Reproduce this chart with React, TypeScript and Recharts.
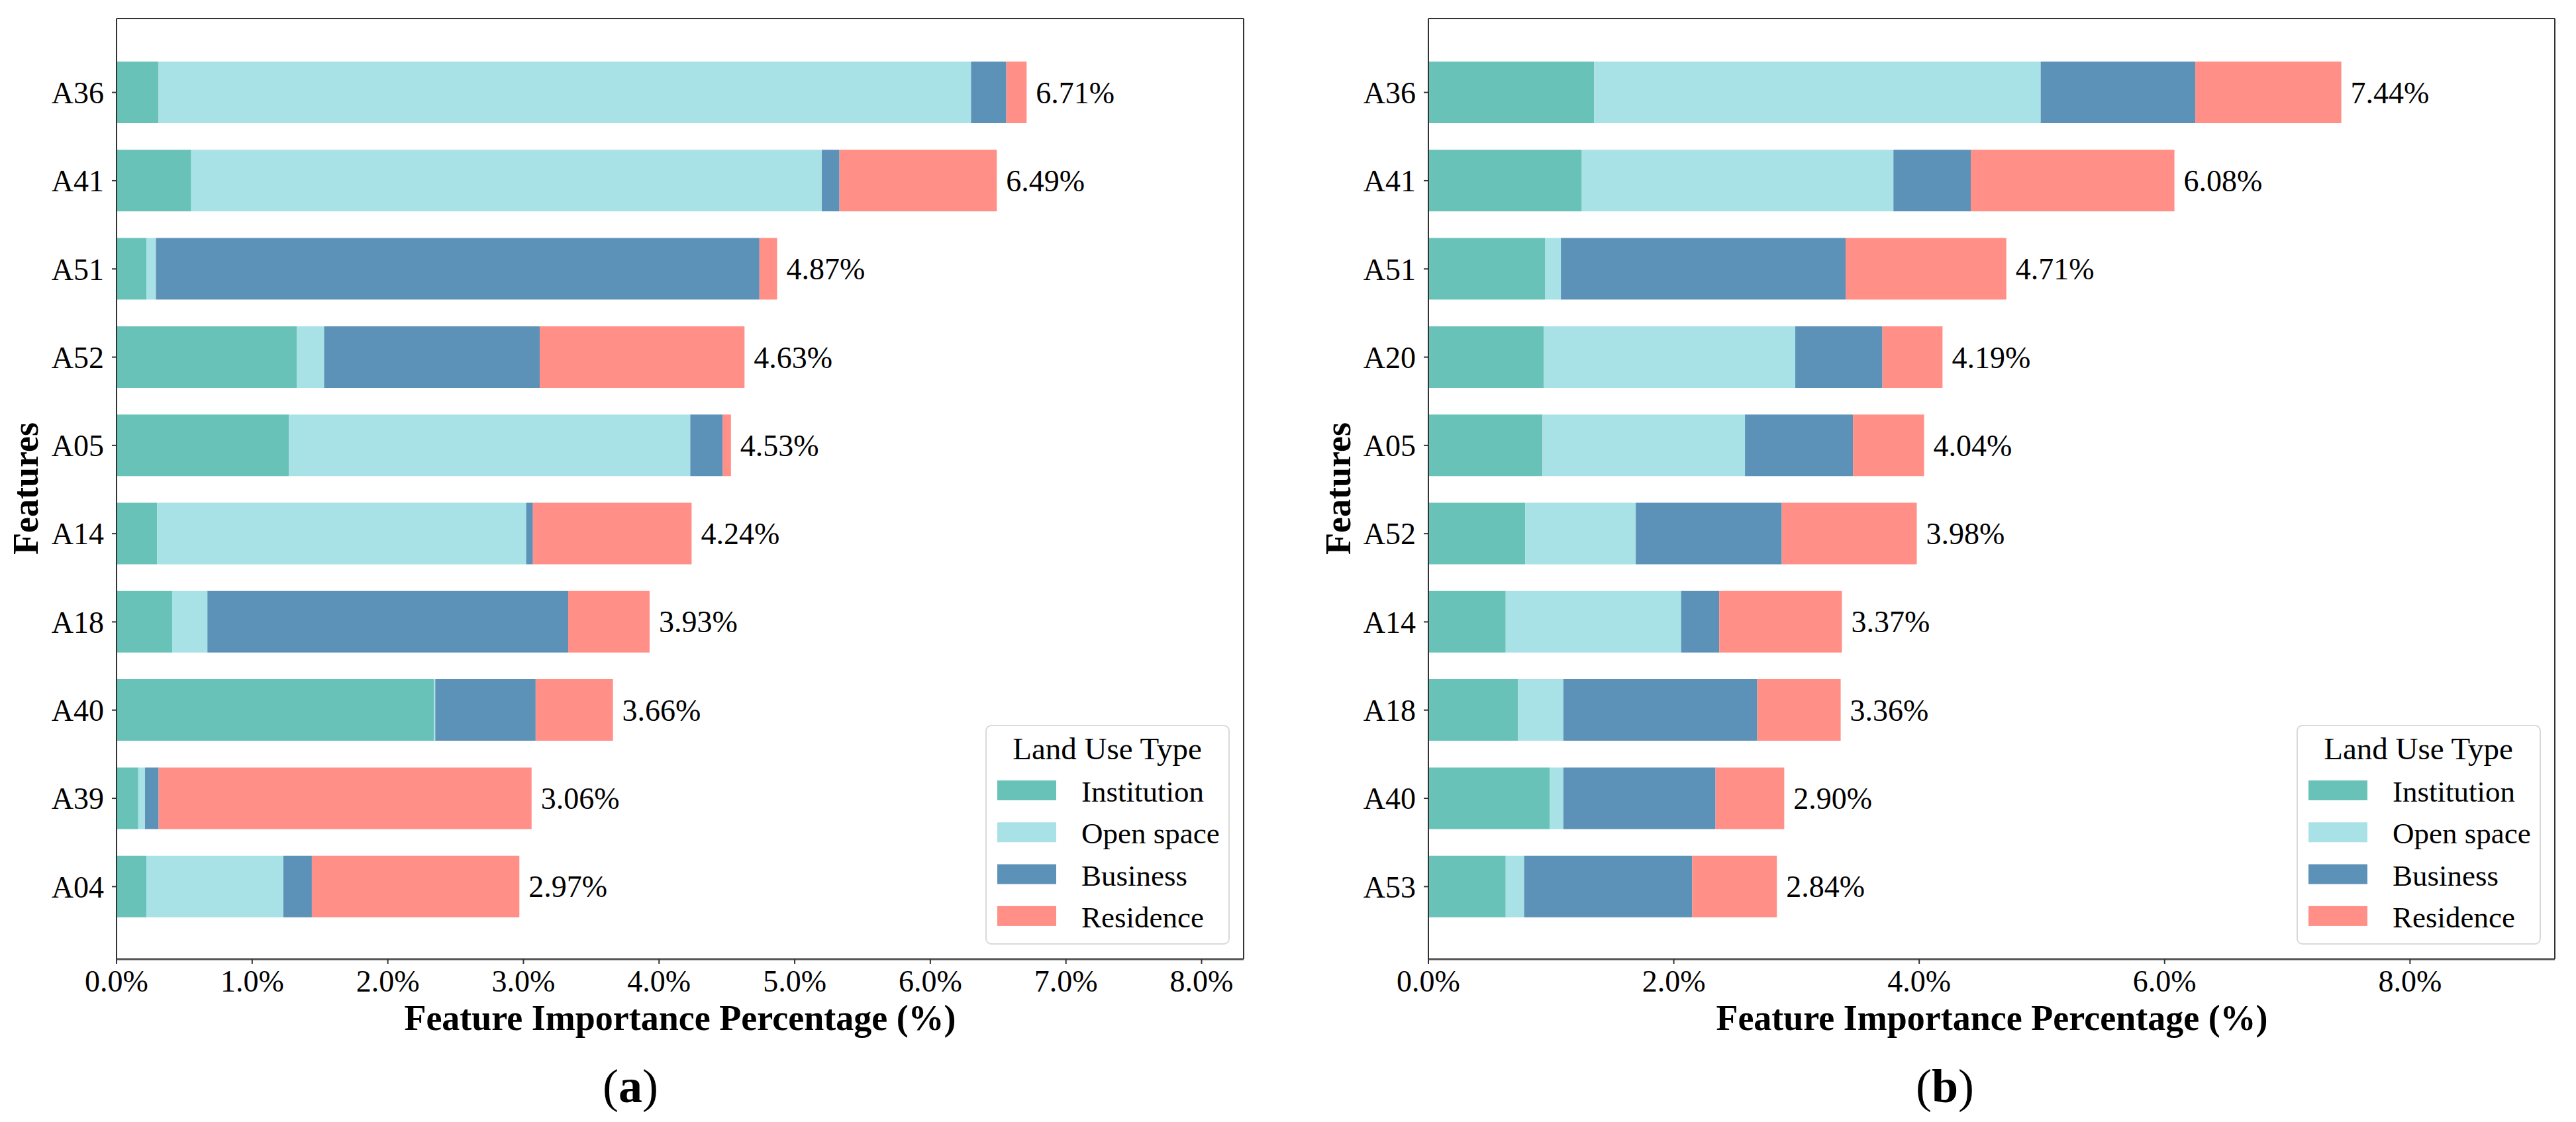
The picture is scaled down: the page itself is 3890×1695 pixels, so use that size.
import { BarChart, Bar, XAxis, YAxis, LabelList, Legend } from 'recharts'

const FONT = '"Liberation Serif", "Times New Roman", serif'

const landUseTypes = ['Institution', 'Open space', 'Business', 'Residence']
const colors = ['#69C2B8', '#A8E2E6', '#5D92B8', '#FF8F87']

// panel (a)
const featuresA = ['A36', 'A41', 'A51', 'A52', 'A05', 'A14', 'A18', 'A40', 'A39', 'A04']
const institutionA = [0.31, 0.55, 0.22, 1.33, 1.27, 0.3, 0.41, 2.34, 0.16, 0.22]
const openSpaceA = [5.99, 4.65, 0.07, 0.2, 2.96, 2.72, 0.26, 0.01, 0.05, 1.01]
const businessA = [0.26, 0.13, 4.45, 1.59, 0.24, 0.05, 2.66, 0.74, 0.1, 0.21]
const residenceA = [0.15, 1.16, 0.13, 1.51, 0.06, 1.17, 0.6, 0.57, 2.75, 1.53]
const totalsA = [6.71, 6.49, 4.87, 4.63, 4.53, 4.24, 3.93, 3.66, 3.06, 2.97]
const ticksA = [0, 1, 2, 3, 4, 5, 6, 7, 8]

// panel (b)
const featuresB = ['A36', 'A41', 'A51', 'A20', 'A05', 'A52', 'A14', 'A18', 'A40', 'A53']
const institutionB = [1.35, 1.25, 0.95, 0.94, 0.93, 0.79, 0.63, 0.73, 0.99, 0.63]
const openSpaceB = [3.64, 2.54, 0.13, 2.05, 1.65, 0.9, 1.43, 0.37, 0.11, 0.15]
const businessB = [1.26, 0.63, 2.32, 0.71, 0.88, 1.19, 0.31, 1.58, 1.24, 1.37]
const residenceB = [1.19, 1.66, 1.31, 0.49, 0.58, 1.1, 1.0, 0.68, 0.56, 0.69]
const totalsB = [7.44, 6.08, 4.71, 4.19, 4.04, 3.98, 3.37, 3.36, 2.9, 2.84]
const ticksB = [0, 2, 4, 6, 8]

const buildRows = (
  names: string[],
  inst: number[],
  open: number[],
  bus: number[],
  res: number[],
  totals: number[]
) =>
  names.map((name, i) => ({
    name,
    Institution: inst[i],
    'Open space': open[i],
    Business: bus[i],
    Residence: res[i],
    total: totals[i],
  }))

const rowsA = buildRows(featuresA, institutionA, openSpaceA, businessA, residenceA, totalsA)
const rowsB = buildRows(featuresB, institutionB, openSpaceB, businessB, residenceB, totalsB)

const LegendBox = () => (
  <svg width={369} height={332} style={{ display: 'block' }}>
    <rect x={1} y={1} width={367} height={330} rx={8} fill="#fff" stroke="#d9d9d9" strokeWidth={2} />
    <text x={184} y={52} textAnchor="middle" fontFamily={FONT} fontSize={47} fill="#000">
      Land Use Type
    </text>
    {landUseTypes.map((t, i) => (
      <g key={t}>
        <rect x={18} y={84 + i * 63.3} width={89} height={30} fill={colors[i]} />
        <text x={145} y={116 + i * 63.3} fontFamily={FONT} fontSize={45} fill="#000">
          {t}
        </text>
      </g>
    ))}
  </svg>
)

const TotalLabel = (props: any) => {
  const { x, y, width, height, value } = props
  return (
    <text
      x={Number(x) + Number(width) + 14}
      y={Number(y) + Number(height) / 2}
      dy="0.35em"
      fontFamily={FONT}
      fontSize={46}
      fill="#000"
    >
      {`${Number(value).toFixed(2)}%`}
    </text>
  )
}

interface PanelProps {
  rows: any[]
  ticks: number[]
  xMax: number
  marginLeft: number
  marginRight: number
  legendLeft: number
}

function Panel({ rows, ticks, xMax, marginLeft, marginRight, legendLeft }: PanelProps) {
  const tickStyle = { fill: '#000', fontSize: 46, fontFamily: FONT }
  const frame = { stroke: '#333', strokeWidth: 2 }
  return (
    <BarChart
      width={1945}
      height={1695}
      data={rows}
      layout="vertical"
      margin={{ top: 27, right: marginRight, bottom: 186, left: marginLeft }}
    >
      <XAxis
        type="number"
        domain={[0, xMax]}
        ticks={ticks}
        tickFormatter={(v: number) => `${v.toFixed(1)}%`}
        tick={tickStyle}
        tickSize={7}
        tickMargin={9}
        tickLine={{ stroke: '#333', strokeWidth: 2 }}
        axisLine={{ stroke: '#555', strokeWidth: 3 }}
        height={60}
        interval={0}
      />
      {/* top and right spines, matplotlib-style box */}
      <XAxis
        xAxisId="top"
        orientation="top"
        type="number"
        domain={[0, xMax]}
        height={1}
        tick={false}
        tickLine={false}
        axisLine={frame}
      />
      <YAxis
        type="category"
        dataKey="name"
        tick={tickStyle}
        tickSize={7}
        tickMargin={12}
        tickLine={{ stroke: '#333', strokeWidth: 2 }}
        axisLine={frame}
        width={120}
        padding={{ top: 45, bottom: 43 }}
        interval={0}
      />
      <YAxis
        yAxisId="right"
        orientation="right"
        type="category"
        dataKey="name"
        width={1}
        tick={false}
        tickLine={false}
        axisLine={frame}
      />
      <Legend
        layout="vertical"
        align="center"
        verticalAlign="middle"
        content={() => <LegendBox />}
        wrapperStyle={{ left: legendLeft, top: 1095, width: 369, height: 332, bottom: 'auto', right: 'auto' }}
      />
      {landUseTypes.map((t, i) => (
        <Bar key={t} dataKey={t} stackId="a" fill={colors[i]} barSize={93} isAnimationActive={false}>
          {i === landUseTypes.length - 1 && <LabelList dataKey="total" content={TotalLabel} />}
        </Bar>
      ))}
      {/* invisible series so the box axes get drawn */}
      <Bar
        dataKey="total"
        xAxisId="top"
        yAxisId="right"
        fill="transparent"
        fillOpacity={0}
        legendType="none"
        isAnimationActive={false}
      />
    </BarChart>
  )
}

export default function App() {
  return (
    <div style={{ position: 'absolute', left: 0, top: 0, width: 3890, height: 1695, background: '#fff', overflow: 'hidden' }}>
      <div style={{ position: 'absolute', left: 0, top: 0 }}>
        <Panel rows={rowsA} ticks={ticksA} xMax={8.31} marginLeft={56} marginRight={66} legendLeft={1488} />
      </div>
      <div style={{ position: 'absolute', left: 1945, top: 0 }}>
        <Panel rows={rowsB} ticks={ticksB} xMax={9.18} marginLeft={92} marginRight={31} legendLeft={1523} />
      </div>
      <svg
        width={3890}
        height={1695}
        style={{ position: 'absolute', left: 0, top: 0, pointerEvents: 'none' }}
        fontFamily={FONT}
      >
        <text x={1027} y={1556} textAnchor="middle" fontSize={54} fontWeight="bold">
          Feature Importance Percentage (%)
        </text>
        <text x={3008} y={1556} textAnchor="middle" fontSize={54} fontWeight="bold">
          Feature Importance Percentage (%)
        </text>
        <text transform="translate(57,738) rotate(-90)" textAnchor="middle" fontSize={54} fontWeight="bold">
          Features
        </text>
        <text transform="translate(2039,738) rotate(-90)" textAnchor="middle" fontSize={54} fontWeight="bold">
          Features
        </text>
        <text x={952} y={1665} textAnchor="middle" fontSize={72}>
          (<tspan fontWeight="bold">a</tspan>)
        </text>
        <text x={2937} y={1665} textAnchor="middle" fontSize={72}>
          (<tspan fontWeight="bold">b</tspan>)
        </text>
      </svg>
    </div>
  )
}
